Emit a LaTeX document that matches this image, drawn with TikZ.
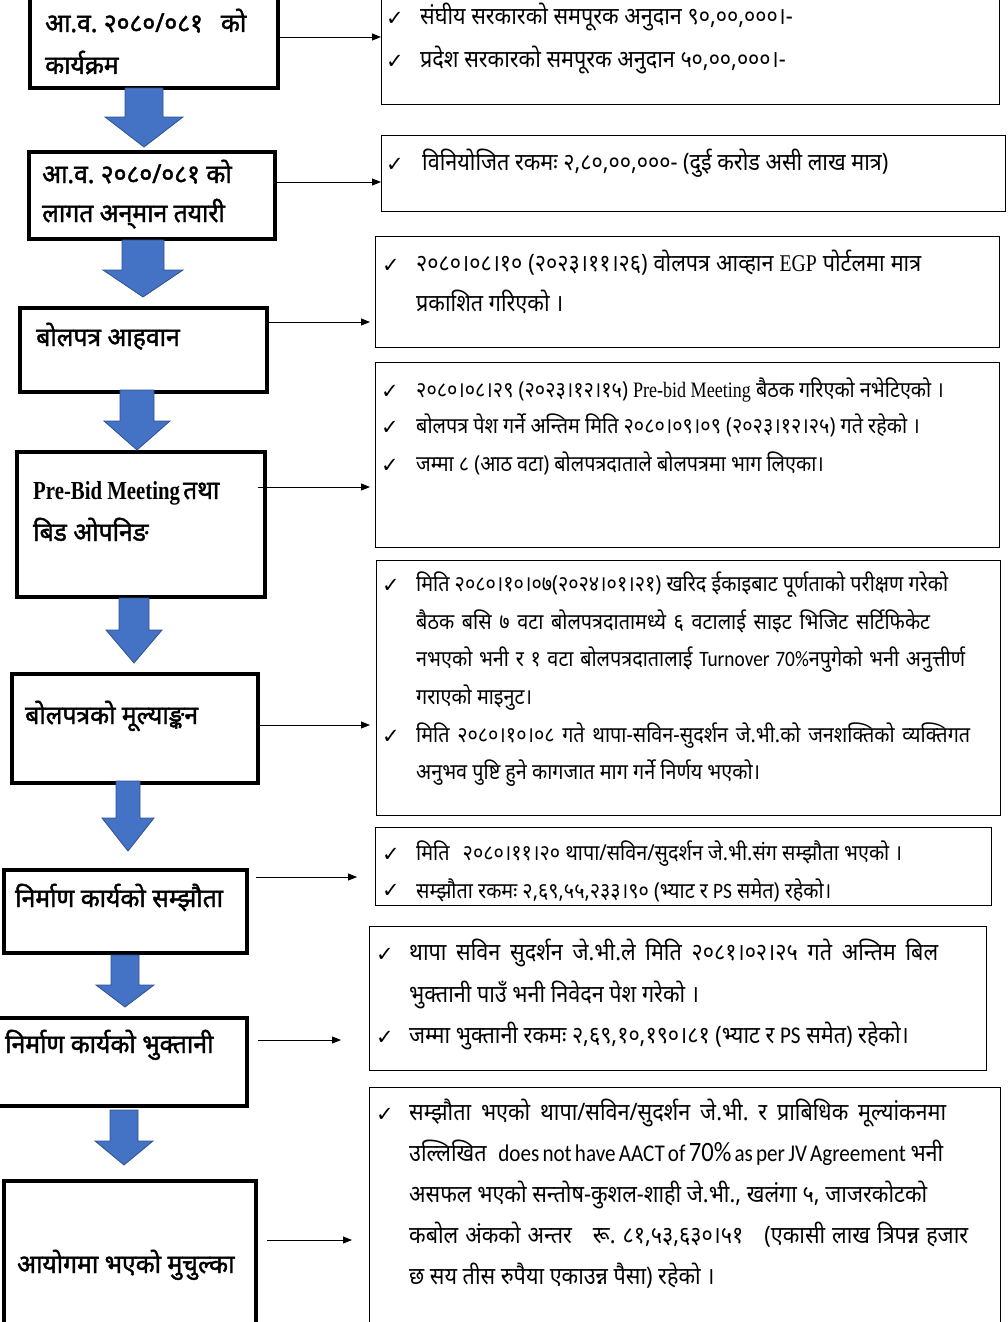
\documentclass[tikz,border=0pt]{standalone}
\usepackage{fontspec}
\newfontfamily\devfont[Script=Devanagari,FakeStretch=0.9]{Noto Sans}
\newfontfamily\devbold[Script=Devanagari,FakeStretch=0.95,FakeBold=1.6]{Noto Sans}
\newfontfamily\tmsfont[FakeStretch=0.82]{Liberation Serif}
\newfontfamily\tmsbfont[FakeStretch=0.8]{Liberation Serif}
\newfontfamily\calfont[FakeStretch=0.88]{Carlito}
\newfontfamily\symfont{DejaVu Sans}
\usetikzlibrary{arrows.meta}
\definecolor{arrowblue}{RGB}{68,114,196}
\definecolor{arrowedge}{RGB}{47,82,143}
\tikzset{
  lbox/.style={draw, line width=4pt, anchor=north west, inner sep=0pt},
  rbox/.style={draw, line width=1pt, anchor=north west, inner sep=0pt},
  ltext/.style={anchor=west, inner sep=0pt, font=\devbold\fontsize{26}{30}\selectfont, text height=18pt, text depth=8pt},
  rtext/.style={anchor=west, inner sep=0pt, font=\devfont\fontsize{22}{26}\selectfont, text height=17pt, text depth=7pt},
  rtextl/.style={rtext, font=\devfont\fontsize{24}{28}\selectfont},
  tick/.style={anchor=west, inner sep=0pt, font=\symfont\fontsize{21}{24}\selectfont, text height=15pt, text depth=3pt},
  conn/.style={-{Triangle[length=9pt,width=7pt]}, line width=0.9pt},
  blockarrow/.style={fill=arrowblue, draw=arrowedge, line width=0.8pt},
}
% justified line of given width
\newcommand\jl[2]{\makebox[#1pt][s]{#2}}
% block arrow: cx, ytop, shaft half width, head half width, yneck, ytip
\newcommand\barrow[6]{%
  \draw[blockarrow] ({#1-#3},#2) -- ({#1+#3},#2) -- ({#1+#3},#5) -- ({#1+#4},#5)
    -- (#1,#6) -- ({#1-#4},#5) -- ({#1-#3},#5) -- cycle;}
\frenchspacing
\begin{document}
\begin{tikzpicture}[x=1pt,y=-1pt]
\useasboundingbox (0,0) rectangle (1007,1322);
\clip (0,0) rectangle (1007,1322);

% ---------- left boxes ----------
\node[lbox, minimum width=248pt, minimum height=96pt] (l1) at (28,-10) {};
\node[lbox, minimum width=246pt, minimum height=87pt] (l2) at (27,150) {};
\node[lbox, minimum width=247pt, minimum height=84pt] (l3) at (18,306) {};
\node[lbox, minimum width=248pt, minimum height=145pt] (l4) at (15,450) {};
\node[lbox, minimum width=246pt, minimum height=109pt] (l5) at (10,672) {};
\node[lbox, minimum width=243pt, minimum height=83pt] (l6) at (2,868) {};
\node[lbox, minimum width=255pt, minimum height=88pt] (l7) at (-10,1016) {};
\node[lbox, minimum width=252pt, minimum height=160pt] (l8) at (2,1179) {};

\node[ltext] (t1a) at (45,27) {आ.व. २०८०/०८१\hspace{18pt}को};
\node[ltext] (t1b) at (45,69) {कार्यक्रम};
\node[ltext] (t2a) at (42,178) {आ.व. २०८०/०८१ को};
\node[ltext] (t2b) at (42,217) {लागत अन्^^^^200cमान तयारी};
\node[ltext] (t3) at (36,341) {बोलपत्र आहवान};
\node[ltext] (t4a) at (33,494) {{\tmsbfont\bfseries Pre-Bid Meeting}\hspace{3pt}तथा};
\node[ltext] (t4b) at (33,536) {बिड ओपनिङ};
\node[ltext] (t5) at (25,719) {बोलपत्रको मूल्याङ्कन};
\node[ltext] (t6) at (15,902) {निर्माण कार्यको सम्झौता};
\node[ltext] (t7) at (5,1048) {निर्माण कार्यको भुक्तानी};
\node[ltext] (t8) at (17,1268) {आयोगमा भएको मुचुल्का};

% ---------- block arrows ----------
\barrow{144}{88}{19}{39}{117}{147}
\barrow{143}{240}{21}{40}{270}{297}
\barrow{137}{390}{17}{33}{421}{450}
\barrow{134}{598}{15}{28}{630}{663}
\barrow{128}{781}{12}{26}{818}{851}
\barrow{125}{955}{14}{29}{985}{1007}
\barrow{124}{1110}{14}{29}{1141}{1165}

% ---------- right boxes ----------
\node[rbox, minimum width=618pt, minimum height=109pt] (r1) at (381,-5) {};
\node[rbox, minimum width=624pt, minimum height=76pt] (r2) at (381,135) {};
\node[rbox, minimum width=624pt, minimum height=111pt] (r3) at (375,236) {};
\node[rbox, minimum width=624pt, minimum height=185pt] (r4) at (375,362) {};
\node[rbox, minimum width=624pt, minimum height=255pt] (r5) at (376,560) {};
\node[rbox, minimum width=616pt, minimum height=78pt] (r6) at (375,827) {};
\node[rbox, minimum width=617pt, minimum height=144pt] (r7) at (369,926) {};
\node[rbox, minimum width=631pt, minimum height=250pt] (r8) at (369,1087) {};

% ---------- connectors ----------
\coordinate (s1) at (276,37);  \coordinate (e1) at (381,37);
\coordinate (s2) at (276,182); \coordinate (e2) at (381,182);
\coordinate (s3) at (265,322); \coordinate (e3) at (370,322);
\coordinate (s4) at (258,487); \coordinate (e4) at (370,487);
\coordinate (s5) at (258,725); \coordinate (e5) at (370,725);
\coordinate (s6) at (256,877); \coordinate (e6) at (357,877);
\coordinate (s7) at (258,1040); \coordinate (e7) at (341,1040);
\coordinate (s8) at (267,1240); \coordinate (e8) at (352,1240);
\draw[conn] (s1) -- (e1);
\draw[conn] (s2) -- (e2);
\draw[conn] (s3) -- (e3);
\draw[conn] (s4) -- (e4);
\draw[conn] (s5) -- (e5);
\draw[conn] (s6) -- (e6);
\draw[conn] (s7) -- (e7);
\draw[conn] (s8) -- (e8);

% ---------- right texts ----------
\node[tick] (k1a) at (386,20) {✓};
\node[rtextl] (x1a) at (420,20) {संघीय सरकारको समपूरक अनुदान ९०,००,०००।-};
\node[tick] (k1b) at (386,62) {✓};
\node[rtextl] (x1b) at (420,62) {प्रदेश सरकारको समपूरक अनुदान ५०,००,०००।-};

\node[tick] (k2a) at (386,165) {✓};
\node[rtextl] (x2a) at (422,165) {विनियोजित रकमः २,८०,००,०००- (दुई करोड असी लाख मात्र)};

\node[tick] (k3a) at (382,266) {✓};
\node[rtextl] (x3a) at (416,266) {\jl{505}{२०८०।०८।१० (२०२३।११।२६) वोलपत्र आव्हान {\tmsfont EGP} पोर्टलमा मात्र}};
\node[rtextl] (x3b) at (416,306) {प्रकाशित गरिएको ।};

\node[tick] (k4a) at (381,392) {✓};
\node[rtext] (x4a) at (416,392) {२०८०।०८।२९ (२०२३।१२।१५) {\tmsfont Pre-bid Meeting} बैठक गरिएको नभेटिएको ।};
\node[tick] (k4b) at (381,428) {✓};
\node[rtext] (x4b) at (416,428) {बोलपत्र पेश गर्ने अन्तिम मिति २०८०।०९।०९ (२०२३।१२।२५) गते रहेको ।};
\node[tick] (k4c) at (381,466) {✓};
\node[rtext] (x4c) at (416,466) {जम्मा ८ (आठ वटा) बोलपत्रदाताले बोलपत्रमा भाग लिएका।};

\node[tick] (k5a) at (382,586) {✓};
\node[rtext] (x5a) at (416,586) {\jl{532}{मिति २०८०।१०।०७(२०२४।०१।२१) खरिद ईकाइबाट पूर्णताको परीक्षण गरेको}};
\node[rtext] (x5b) at (416,624) {\jl{514}{बैठक बसि ७ वटा बोलपत्रदातामध्ये ६ वटालाई साइट भिजिट सर्टिफिकेट}};
\node[rtext] (x5c) at (416,661) {\jl{549}{नभएको भनी र १ वटा बोलपत्रदातालाई {\calfont Turnover 70\%}नपुगेको भनी अनुत्तीर्ण}};
\node[rtext] (x5d) at (416,699) {गराएको माइनुट।};
\node[tick] (k5b) at (382,737) {✓};
\node[rtext] (x5e) at (416,737) {\jl{554}{मिति २०८०।१०।०८ गते थापा-सविन-सुदर्शन जे.भी.को जनशक्तिको व्यक्तिगत}};
\node[rtext] (x5f) at (416,774) {अनुभव पुष्टि हुने कागजात माग गर्ने निर्णय भएको।};

\begin{scope}
\clip (375,827) rectangle (991,905);
\node[tick] (k6a) at (382,855) {✓};
\node[rtext] (x6a) at (416,855) {मिति\hspace{8pt} २०८०।११।२० थापा/सविन/सुदर्शन जे.भी.संग सम्झौता भएको ।};
\node[tick] (k6b) at (382,891) {✓};
\node[rtext] (x6b) at (416,893) {सम्झौता रकमः २,६९,५५,२३३।९० (भ्याट र {\calfont PS} समेत) रहेको।};
\end{scope}

\node[tick] (k7a) at (376,955) {✓};
\node[rtextl] (x7a) at (409,955) {\jl{529}{थापा सविन सुदर्शन जे.भी.ले मिति २०८१।०२।२५ गते अन्तिम बिल}};
\node[rtextl] (x7b) at (409,997) {भुक्तानी पाउँ भनी निवेदन पेश गरेको ।};
\node[tick] (k7b) at (376,1038) {✓};
\node[rtextl] (x7c) at (409,1038) {जम्मा भुक्तानी रकमः २,६९,१०,१९०।८१ (भ्याट र {\calfont PS} समेत) रहेको।};

\node[tick] (k8a) at (376,1115) {✓};
\node[rtextl] (x8a) at (409,1115) {\jl{537}{सम्झौता भएको थापा/सविन/सुदर्शन जे.भी. र प्राबिधिक मूल्यांकनमा}};
\node[rtextl] (x8b) at (409,1156) {\jl{526}{उल्लिखित\hspace{8pt} {\calfont does not have AACT of {\fontsize{28}{30}\selectfont 70\%} as per JV Agreement}\hspace{1pt} भनी}};
\node[rtextl] (x8c) at (409,1197) {\jl{518}{असफल भएको सन्तोष-कुशल-शाही जे.भी., खलंगा ५, जाजरकोटको}};
\node[rtextl] (x8d) at (409,1238) {\jl{559}{कबोल अंकको अन्तर\hspace{14pt} रू. ८१,५३,६३०।५१\hspace{14pt} (एकासी लाख त्रिपन्न हजार}};
\node[rtextl] (x8e) at (409,1279) {छ सय तीस रुपैया एकाउन्न पैसा) रहेको ।};

\end{tikzpicture}
\end{document}
